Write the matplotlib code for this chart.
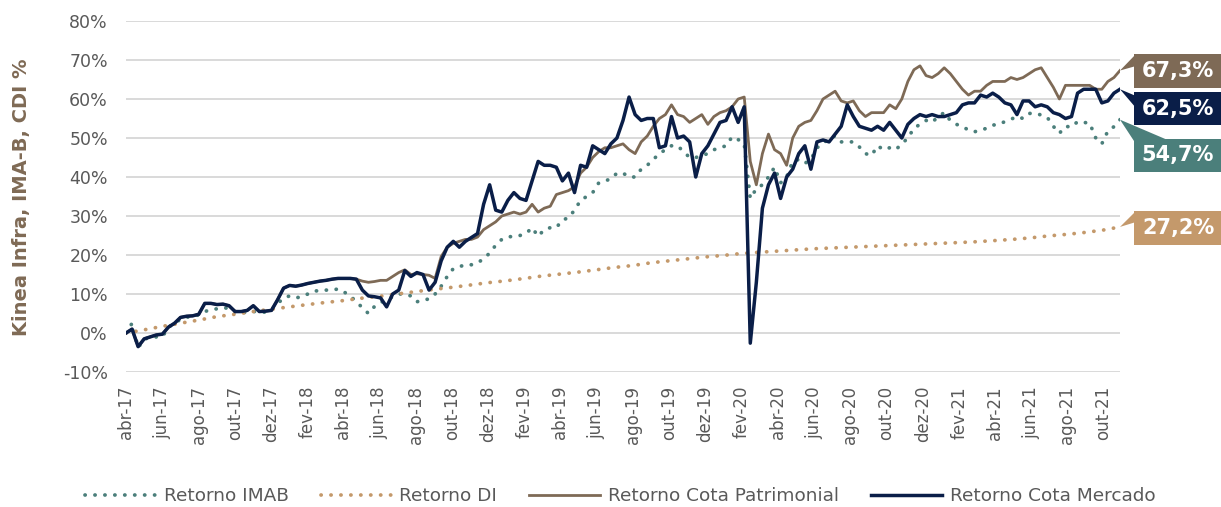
import matplotlib
matplotlib.use("Agg")
import matplotlib.pyplot as plt
import matplotlib.dates as mdates
from matplotlib.patches import Polygon, Rectangle
import pandas as pd

# ---------------- data ----------------
dates = pd.date_range("2017-04-01", "2021-10-29", periods=165)

cota_mercado = [
    0, 1.0, -3.5, -1.5, -1.0, -0.5, -0.3, 1.5, 2.5, 4.0,
    4.3, 4.4, 4.8, 7.6, 7.6, 7.3, 7.4, 7.0, 5.5, 5.5,
    5.8, 7.0, 5.5, 5.6, 5.8, 8.5, 11.5, 12.2, 12.0, 12.3,
    12.7, 13.0, 13.3, 13.5, 13.8, 14.0, 14.0, 14.0, 13.8, 11.0,
    9.5, 9.3, 9.0, 6.7, 10.0, 11.0, 16.0, 14.5, 15.5, 15.0,
    11.0, 13.0, 18.5, 22.0, 23.5, 22.0, 23.5, 24.5, 25.5, 33.0,
    38.0, 31.5, 31.0, 34.0, 36.0, 34.5, 34.0, 39.0, 44.0, 43.0,
    43.0, 42.5, 39.0, 41.0, 36.0, 43.0, 42.5, 48.0, 47.0, 46.0,
    48.5, 50.0, 54.5, 60.5, 56.0, 54.5, 55.0, 55.0, 47.5, 48.0,
    55.5, 50.0, 50.5, 49.0, 40.0, 46.0, 48.0, 51.0, 54.0, 54.5,
    58.0, 54.0, 58.0, -2.6, 13.0, 32.0, 38.0, 41.0, 34.5, 40.0,
    42.0, 46.0, 48.0, 42.0, 49.0, 49.5, 49.0, 51.0, 53.0, 58.5,
    55.5, 53.0, 52.5, 52.0, 53.0, 52.0, 54.0, 52.0, 50.0, 53.5,
    55.0, 56.0, 55.5, 56.0, 55.5, 55.5, 56.0, 56.5, 58.5, 59.0,
    59.0, 61.0, 60.5, 61.5, 60.5, 59.0, 58.5, 56.0, 59.5, 59.5,
    58.0, 58.5, 58.0, 56.5, 56.0, 55.0, 55.5, 61.5, 62.5, 62.5,
    62.5, 59.0, 59.5, 61.5, 62.5,
]

cota_patrimonial = [
    0, 1.0, -3.5, -1.5, -1.0, -0.5, -0.3, 1.5, 2.5, 4.0,
    4.3, 4.4, 4.8, 7.6, 7.6, 7.3, 7.4, 7.0, 5.5, 5.5,
    5.8, 7.0, 5.5, 5.6, 5.8, 8.5, 11.5, 12.2, 12.0, 12.3,
    12.7, 13.0, 13.3, 13.5, 13.8, 14.0, 14.0, 14.0, 13.8, 13.3,
    13.0, 13.2, 13.5, 13.5, 14.5, 15.5, 16.2, 15.0, 15.2, 15.0,
    14.8, 14.0, 19.6, 22.0, 23.0, 23.5, 24.0, 24.0, 24.6, 26.5,
    27.5, 28.5, 30.0, 30.5, 31.0, 30.5, 31.0, 33.0, 31.0, 32.0,
    32.5, 35.5, 36.0, 36.5, 37.5, 41.0, 42.5, 45.0, 46.5, 47.5,
    47.5, 48.0, 48.5, 47.0, 46.0, 49.0, 50.5, 53.0, 55.0, 56.0,
    58.5, 56.0, 55.5, 54.0, 55.0, 56.0, 53.5, 55.5, 56.5, 57.0,
    58.0, 60.0, 60.5, 44.0, 38.0, 46.0, 51.0, 47.0, 46.0, 43.0,
    50.0, 53.0, 54.0, 54.5, 57.0, 60.0, 61.0, 62.0, 59.5, 59.0,
    59.5, 57.0, 55.5, 56.5, 56.5, 56.5, 58.5, 57.5, 60.0, 64.5,
    67.5, 68.5, 66.0, 65.5, 66.5, 68.0, 66.5, 64.5, 62.5, 61.0,
    62.0, 62.0, 63.5, 64.5, 64.5, 64.5, 65.5, 65.0, 65.5, 66.5,
    67.5, 68.0, 65.5, 63.0, 60.0, 63.5, 63.5, 63.5, 63.5, 63.5,
    62.5, 62.5, 64.5, 65.5, 67.3,
]

imab = [
    0, 2.5, -3.8, -1.5, -1.3, -1.0, -1.0, 1.5, 2.5, 3.5,
    4.0, 4.4, 4.6, 5.5, 6.0, 6.2, 6.5, 6.3, 5.5, 5.0,
    5.5, 5.5, 5.5, 5.3, 6.0, 7.5, 9.0, 9.5, 9.0, 9.3,
    10.0, 10.8, 10.8, 11.0, 11.0, 11.3, 10.5, 9.5, 8.0, 6.5,
    5.0, 6.8, 7.8, 8.5, 9.3, 10.0, 10.0, 9.5, 8.0, 8.5,
    8.7, 10.0, 12.0, 14.5, 16.5, 17.0, 17.5, 17.5, 18.0, 19.0,
    20.5, 22.5, 24.0, 24.7, 24.7, 25.0, 25.5, 27.0, 24.8, 26.5,
    27.0, 27.0, 29.0, 29.5, 31.5, 34.0, 35.0, 36.0, 38.5, 39.0,
    39.5, 41.0, 41.0, 40.0, 40.0, 42.0, 43.0, 44.5, 46.0, 47.0,
    48.0, 48.0, 46.5, 45.0, 45.0, 45.5, 46.0, 47.0, 47.5, 48.0,
    50.3, 49.6, 48.5, 34.5, 37.0, 38.0, 40.0, 42.5, 38.5, 40.0,
    44.0, 44.5, 43.5, 44.5, 47.5, 48.5, 50.0, 50.5, 49.0, 49.0,
    49.0, 47.7, 46.0, 45.5, 48.0, 47.0, 47.5, 47.0, 48.5, 50.0,
    52.5, 53.5, 54.5, 54.0, 55.5, 56.5, 54.5, 53.5, 53.0, 52.0,
    51.6, 52.0, 52.5, 53.3, 53.5, 54.2, 54.8, 55.5, 55.0, 56.3,
    56.3, 55.9, 55.3, 53.0, 51.2, 53.0, 52.8, 54.2, 54.0, 53.8,
    50.0, 48.5, 51.8, 52.9, 54.7,
]

di_dates = list(pd.date_range("2017-04-01", "2021-10-01", freq="MS")) + [pd.Timestamp("2021-10-29")]
di = [
    0, 0.8, 1.7, 2.5, 3.3, 4.2, 4.8, 5.5, 6.1,
    6.7, 7.3, 7.8, 8.3, 8.9, 9.4, 10.0, 10.6, 11.2, 11.7, 12.3, 12.9,
    13.4, 14.0, 14.6, 15.1, 15.6, 16.2, 16.8, 17.3, 18.0, 18.5, 19.0, 19.5,
    19.9, 20.4, 20.7, 21.0, 21.3, 21.6, 21.8, 22.0, 22.2, 22.4, 22.6, 22.8,
    23.0, 23.2, 23.4, 23.7, 24.0, 24.4, 24.9, 25.3, 25.8, 26.4,
    27.2,
]

tick_dates = pd.date_range("2017-04-01", "2021-10-01", freq="2MS")
tick_labels = [
    "abr-17", "jun-17", "ago-17", "out-17", "dez-17",
    "fev-18", "abr-18", "jun-18", "ago-18", "out-18", "dez-18",
    "fev-19", "abr-19", "jun-19", "ago-19", "out-19", "dez-19",
    "fev-20", "abr-20", "jun-20", "ago-20", "out-20", "dez-20",
    "fev-21", "abr-21", "jun-21", "ago-21", "out-21",
]
y_ticks = [-10, 0, 10, 20, 30, 40, 50, 60, 70, 80]

end_labels = ["67,3%", "62,5%", "54,7%", "27,2%"]

# ---------------- style ----------------
C_IMAB = "#4B7F7B"
C_DI = "#C4996B"
C_PAT = "#7E6A56"
C_MER = "#0A1E48"
C_TXT = "#595959"

W, H = 1221, 507
fig = plt.figure(figsize=(W / 100, H / 100), dpi=100)
ax = fig.add_axes([126 / W, 1 - 372 / H, (1120 - 126) / W, (372 - 21) / H])

dot = (0, (0.05, 2.6))
ax.plot(dates, imab, color=C_IMAB, lw=2.7, linestyle=dot, dash_capstyle="round",
        label="Retorno IMAB", zorder=3)
ax.plot(di_dates, di, color=C_DI, lw=2.7, linestyle=dot, dash_capstyle="round",
        label="Retorno DI", zorder=3)
ax.plot(dates, cota_patrimonial, color=C_PAT, lw=2.0, label="Retorno Cota Patrimonial",
        zorder=4, solid_joinstyle="round")
ax.plot(dates, cota_mercado, color=C_MER, lw=2.5, label="Retorno Cota Mercado",
        zorder=5, solid_joinstyle="round")

ax.set_xlim(dates[0], dates[-1])
ax.set_ylim(-10, 80)
ax.set_yticks(y_ticks)
ax.set_yticklabels([f"{v}%" for v in y_ticks])
ax.set_xticks(tick_dates)
ax.set_xticklabels(tick_labels, rotation=90, ha="center", va="top")
ax.tick_params(axis="both", length=0, labelsize=12, colors=C_TXT)
ax.tick_params(axis="y", pad=13, labelsize=12.5)
ax.tick_params(axis="x", pad=10)
for s in ax.spines.values():
    s.set_visible(False)
ax.yaxis.grid(True, color="#D9D9D9", lw=1.4)
ax.set_axisbelow(True)

fig.text(22 / W, 1 - 197 / H, "Kinea Infra, IMA-B, CDI %", rotation=90,
         ha="center", va="center", fontsize=14, fontweight="bold", color="#7F6A55")

leg = fig.legend(loc="center", bbox_to_anchor=(0.508, 1 - 496 / H), ncol=4, frameon=False,
                 fontsize=13.3, handlelength=3.8, handletextpad=0.45, columnspacing=1.75,
                 labelcolor=C_TXT)

# ---------------- callouts ----------------
def px(x, y):
    return (x / W, 1 - y / H)

def tip(date, val):
    d = ax.transData.transform((mdates.date2num(date), val))
    return fig.transFigure.inverted().transform(d)

callouts = [
    (end_labels[0], C_PAT, tip(dates[-1], cota_patrimonial[-1]), (54, 88), [(1136, 54), (1136, 66)]),
    (end_labels[1], C_MER, tip(dates[-1], cota_mercado[-1]), (92, 125), [(1136, 96), (1136, 108)]),
    (end_labels[2], C_IMAB, tip(dates[-1], imab[-1]), (139, 172), [(1134, 141), (1170, 141)]),
    (end_labels[3], C_DI, tip(di_dates[-1], di[-1]), (211, 245), [(1136, 211), (1136, 222)]),
]
for text, col, tp, (y0, y1), wedge in callouts:
    poly = Polygon([tuple(tp)] + [px(*p) for p in wedge], closed=True,
                   transform=fig.transFigure, facecolor=col, edgecolor="none", zorder=6)
    fig.add_artist(poly)
    x0f, y1f = px(1134, y1)
    rect = Rectangle((x0f, y1f), (1221 - 1134) / W, (y1 - y0) / H,
                     transform=fig.transFigure, facecolor=col, edgecolor="none", zorder=6)
    fig.add_artist(rect)
    cx, cy = px(1178, (y0 + y1) / 2)
    fig.text(cx, cy, text, ha="center", va="center", color="white",
             fontsize=15, fontweight="bold", zorder=7)

fig.savefig("out.png", dpi=100)
